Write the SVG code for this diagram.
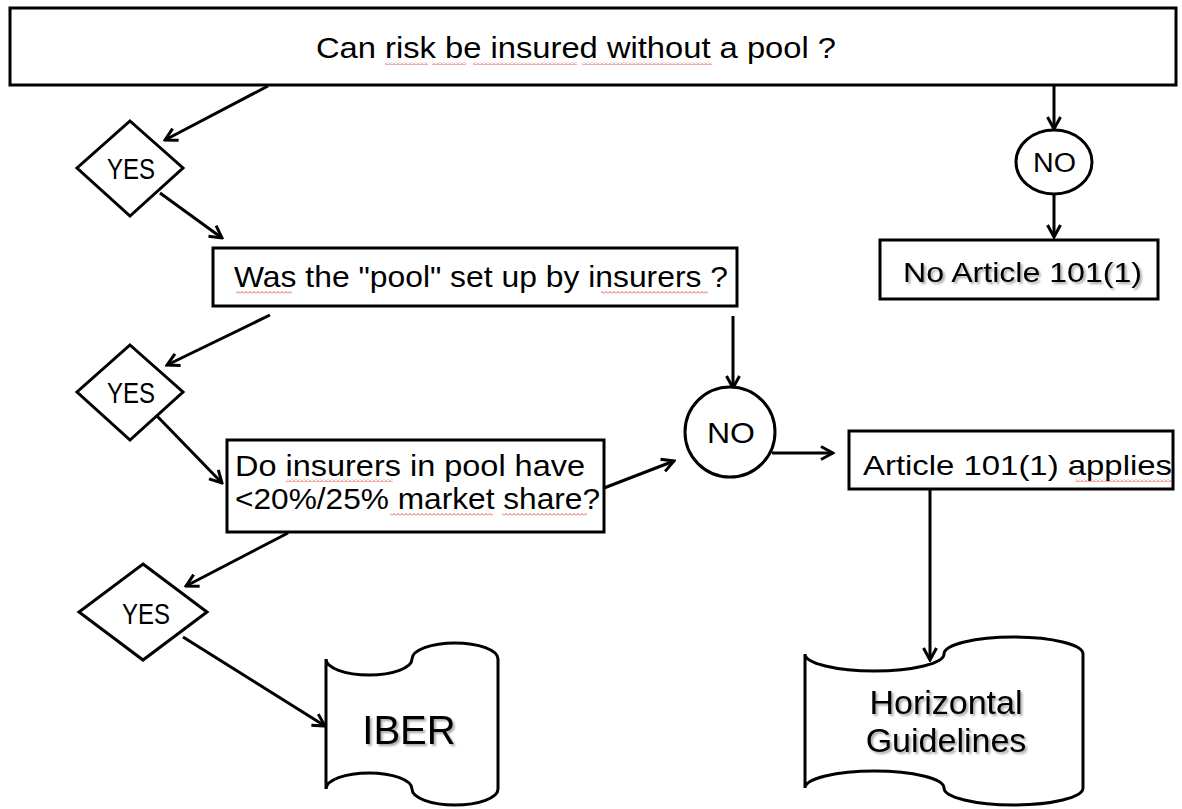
<svg xmlns="http://www.w3.org/2000/svg" width="1182" height="809" viewBox="0 0 1182 809">
<style>
.box{fill:#fff;stroke:#000;stroke-width:3}
.t{font-family:"Liberation Sans",Arial,sans-serif;fill:#000}
.c{stroke:#000;stroke-width:3;fill:none;marker-end:url(#arr)}
.sq{fill:url(#squig)}
</style>
<defs>
<marker id="arr" viewBox="0 0 16 16" refX="14" refY="8" markerWidth="16" markerHeight="16" markerUnits="userSpaceOnUse" orient="auto">
<path d="M2,1.5 L14,8 L2,14.5" fill="none" stroke="#000" stroke-width="3"/>
</marker>
<pattern id="squig" patternUnits="userSpaceOnUse" width="4" height="3">
<polyline points="0,2.5 2,0.5 4,2.5" fill="none" stroke="#e03030" stroke-width="0.8"/>
</pattern>
<filter id="sh" x="-10%" y="-20%" width="130%" height="160%">
<feDropShadow dx="2" dy="2" stdDeviation="1.2" flood-color="#000" flood-opacity="0.35"/>
</filter>
</defs>
<rect width="1182" height="809" fill="#fff"/>

<g id="connectors">
<line class="c" x1="268" y1="86" x2="165" y2="140"/>
<line class="c" x1="160" y1="193" x2="222" y2="238"/>
<line class="c" x1="270" y1="315" x2="167" y2="365"/>
<line class="c" x1="157" y1="416" x2="222" y2="483"/>
<line class="c" x1="604" y1="488" x2="674" y2="461"/>
<line class="c" x1="288" y1="533" x2="186" y2="586"/>
<line class="c" x1="183" y1="637" x2="325" y2="726"/>
<line class="c" x1="733" y1="316" x2="733" y2="388"/>
<line class="c" x1="772" y1="453" x2="833" y2="453"/>
<line class="c" x1="930" y1="490" x2="930" y2="660"/>
<line class="c" x1="1054" y1="86" x2="1054" y2="129"/>
<line class="c" x1="1054" y1="195" x2="1054" y2="237"/>
</g>

<g id="q1">
<rect class="box" x="10" y="8" width="1166" height="77"/>
<text class="t" x="316" y="58" font-size="29" textLength="520" lengthAdjust="spacingAndGlyphs">Can risk be insured without a pool ?</text>
<rect class="sq" x="385" y="62" width="43" height="3"/>
<rect class="sq" x="432" y="62" width="34" height="3"/>
<rect class="sq" x="473" y="62" width="104" height="3"/>
<rect class="sq" x="582" y="62" width="130" height="3"/>
</g>

<g id="yes1">
<polygon class="box" points="130,121 183,168 130,216 77,168"/>
<text class="t" x="107" y="179" font-size="29" textLength="48" lengthAdjust="spacingAndGlyphs">YES</text>
</g>

<g id="q2">
<rect class="box" x="213" y="248" width="524" height="58"/>
<text class="t" x="234" y="287" font-size="29" textLength="494" lengthAdjust="spacingAndGlyphs">Was the "pool" set up by insurers ?</text>
<rect class="sq" x="236" y="291" width="56" height="3"/>
<rect class="sq" x="601" y="291" width="107" height="3"/>
</g>

<g id="yes2">
<polygon class="box" points="130,345 183,392 130,440 77,392"/>
<text class="t" x="107" y="403" font-size="29" textLength="48" lengthAdjust="spacingAndGlyphs">YES</text>
</g>

<g id="q3">
<rect class="box" x="227" y="440" width="377" height="92"/>
<text class="t" x="235" y="476" font-size="29" textLength="350" lengthAdjust="spacingAndGlyphs">Do insurers in pool have</text>
<text class="t" x="235" y="509" font-size="29" textLength="365" lengthAdjust="spacingAndGlyphs">&lt;20%/25% market share?</text>
<rect class="sq" x="286" y="479" width="107" height="3"/>
<rect class="sq" x="390" y="513" width="103" height="3"/>
<rect class="sq" x="502" y="513" width="85" height="3"/>
</g>

<g id="yes3">
<polygon class="box" points="143,564 207,612 143,660 79,612"/>
<text class="t" x="122" y="624" font-size="29" textLength="48" lengthAdjust="spacingAndGlyphs">YES</text>
</g>

<g id="iber">
<path class="box" d="M326,659 A43,16 0 0 0 412,659 A43,16 0 0 1 498,659 L498,789 A43,16 0 0 1 412,789 A43,16 0 0 0 326,789 Z"/>
<text class="t" x="409" y="744" font-size="40" text-anchor="middle" filter="url(#sh)">IBER</text>
</g>

<g id="no1">
<ellipse class="box" cx="1054" cy="162" rx="38" ry="32"/>
<text class="t" x="1033" y="172" font-size="27" textLength="43" lengthAdjust="spacingAndGlyphs">NO</text>
</g>

<g id="noart">
<rect class="box" x="880" y="240" width="278" height="59"/>
<text class="t" x="903" y="282" font-size="28" textLength="239" lengthAdjust="spacingAndGlyphs" filter="url(#sh)">No Article 101(1)</text>
</g>

<g id="no2">
<circle class="box" cx="730" cy="432" r="45"/>
<text class="t" x="707" y="443" font-size="30" textLength="48" lengthAdjust="spacingAndGlyphs">NO</text>
</g>

<g id="art">
<rect class="box" x="849" y="431" width="324" height="58"/>
<text class="t" x="863" y="475" font-size="28" textLength="309" lengthAdjust="spacingAndGlyphs">Article 101(1) applies</text>
<rect class="sq" x="1075" y="479" width="97" height="3"/>
</g>

<g id="hg">
<path class="box" d="M805,654 A69.5,17 0 0 0 944,654 A69.5,17 0 0 1 1083,654 L1083,788 A69.5,17 0 0 1 944,788 A69.5,17 0 0 0 805,788 Z"/>
<text class="t" x="946" y="714" font-size="34" text-anchor="middle" filter="url(#sh)">Horizontal</text>
<text class="t" x="946" y="752" font-size="34" text-anchor="middle" filter="url(#sh)">Guidelines</text>
</g>
</svg>
